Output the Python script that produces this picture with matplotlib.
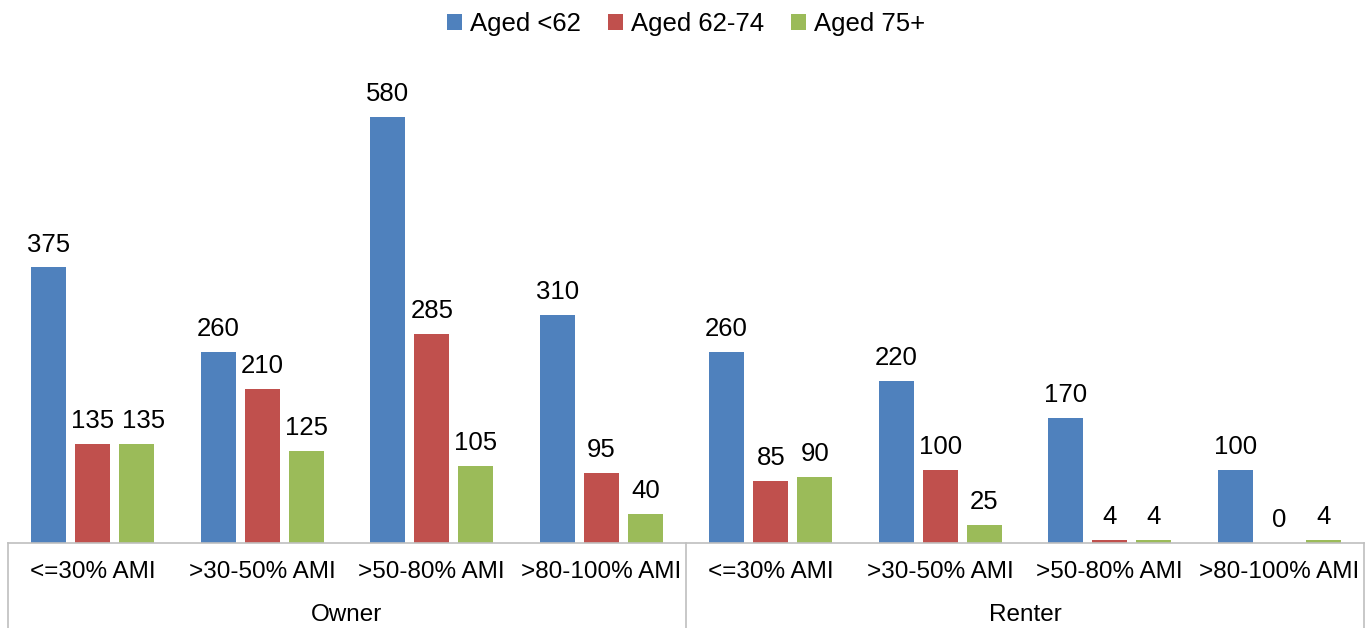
import numpy as np
import matplotlib
matplotlib.use('Agg')
from matplotlib import pyplot as plt

plt.rcParams['font.family'] = ['Liberation Sans', 'DejaVu Sans']

categories = ['<=30% AMI', '>30-50% AMI', '>50-80% AMI', '>80-100% AMI',
              '<=30% AMI', '>30-50% AMI', '>50-80% AMI', '>80-100% AMI']
groups = ['Owner', 'Renter']
series = ['Aged <62', 'Aged 62-74', 'Aged 75+']
aged_lt62 = [375, 260, 580, 310, 260, 220, 170, 100]
aged_62_74 = [135, 210, 285, 95, 85, 100, 4, 0]
aged_75p = [135, 125, 105, 40, 90, 25, 4, 4]
colors = ['#4F81BD', '#C0504D', '#9BBB59']

fig = plt.figure(figsize=(13.72, 6.28), dpi=100)
ax = fig.add_axes([8/1372, 85/628, 1356/1372, 493/628])

x = np.arange(len(categories))
step = 0.26
width = 0.206
labels = []
for i, (vals, name) in enumerate(zip([aged_lt62, aged_62_74, aged_75p], series)):
    pos = x + (i - 1) * step
    ax.bar(pos, vals, width, color=colors[i], label=name)
    for p, v in zip(pos, vals):
        t = ax.annotate(str(v), (p, v), xytext=(0, 11.5), textcoords='offset points',
                        ha='center', va='baseline', fontsize=18.5)
        labels.append((p, v, t))

ax.set_xlim(-0.5, len(categories) - 0.5)
ax.set_ylim(0, 671)
ax.set_yticks([])
ax.set_xticks([])
for s in ['top', 'left', 'right']:
    ax.spines[s].set_visible(False)
ax.spines['bottom'].set_color('#BFBFBF')
ax.spines['bottom'].set_linewidth(1.2)

# push a value label to the right when it runs into its neighbour
fig.canvas.draw()
r = fig.canvas.get_renderer()
labels.sort(key=lambda l: l[0])
prev = None
for p, v, t in labels:
    bb = t.get_window_extent(r)
    if prev is not None:
        pb = prev.get_window_extent(r)
        if bb.x0 < pb.x1 + 8 and bb.y0 < pb.y1 and bb.y1 > pb.y0:
            t.xyann = (t.xyann[0] + (pb.x1 + 8 - bb.x0) * 72 / fig.dpi, t.xyann[1])
    prev = t

# category and group labels under the axis, with separator lines
trans = ax.get_xaxis_transform()
for xi, lab in zip(x, categories):
    ax.text(xi, -29/493, lab, transform=trans, ha='center', va='center', fontsize=17.5)
for gi, g in enumerate(groups):
    ax.text(gi * 4 + 1.5, -72/493, g, transform=trans, ha='center', va='center', fontsize=17.5)
for xv in [-0.5, 3.5, 7.5]:
    ax.plot([xv, xv], [0, -90/493], transform=trans, color='#BFBFBF', lw=1.2, clip_on=False)

fig.legend(loc='upper center', bbox_to_anchor=(0.5, 1.018), ncol=3, frameon=False,
           fontsize=18.5, handlelength=0.6, handleheight=0.6, handletextpad=0.3,
           columnspacing=1.05)

fig.savefig('out.png', dpi=100)
